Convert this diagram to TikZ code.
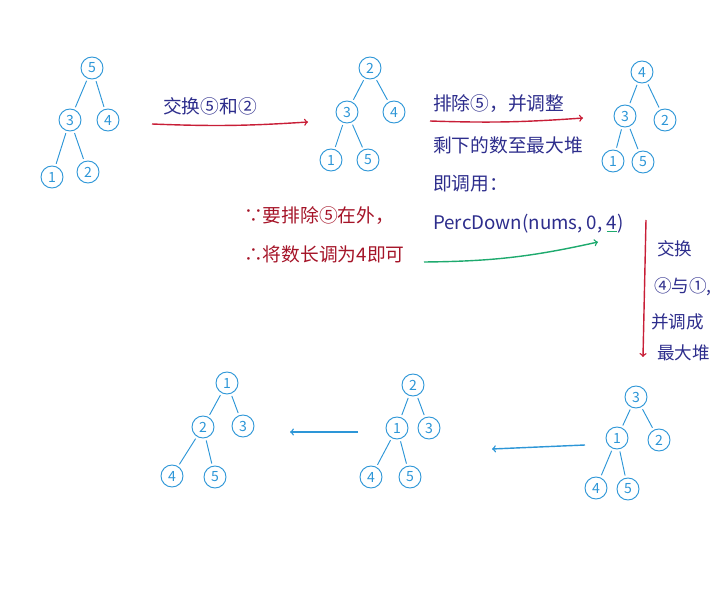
\documentclass[tikz,border=0pt]{standalone}
\usepackage{fontspec}
\setmainfont{Noto Sans CJK SC}
\usepackage{tikz}

\definecolor{treeblue}{RGB}{45,150,215}
\definecolor{txtblue}{RGB}{45,45,140}
\definecolor{txtred}{RGB}{165,20,40}
\definecolor{arrred}{RGB}{200,30,55}
\definecolor{arrgreen}{RGB}{30,170,110}

\begin{document}
\begin{tikzpicture}[x=0.03cm, y=-0.03cm,
		key/.style={circle, draw=treeblue, thick, text=treeblue, inner sep=0pt, minimum size=0.66cm, font=\fontsize{12}{12}\selectfont},
		branch/.style={treeblue, thick, shorten <=2pt, shorten >=2pt},
		note/.style={anchor=west, inner sep=0pt, font=\fontsize{16}{16}\selectfont},
		sidenote/.style={note, font=\fontsize{15}{15}\selectfont},
		step arrow/.style={very thick, ->}]
			\useasboundingbox (0,0) rectangle (715,596);
			% first heap
			\node[key] (a1) at (92,68) {5};
			\node[key] (a2) at (70,120) {3};
			\node[key] (a3) at (108,120) {4};
			\node[key] (a4) at (52,177) {1};
			\node[key] (a5) at (88,172) {2};
			\draw[branch] (a1)--(a2);
			\draw[branch] (a1)--(a3);
			\draw[branch] (a2)--(a4);
			\draw[branch] (a2)--(a5);
			% 5 and 2 swapped
			\node[key] (b1) at (370,68) {2};
			\node[key] (b2) at (347,112) {3};
			\node[key] (b3) at (394,112) {4};
			\node[key] (b4) at (331,160) {1};
			\node[key] (b5) at (368,160) {5};
			\draw[branch] (b1)--(b2);
			\draw[branch] (b1)--(b3);
			\draw[branch] (b2)--(b4);
			\draw[branch] (b2)--(b5);
			% max heap of the first four
			\node[key] (c1) at (642,72) {4};
			\node[key] (c2) at (625,116) {3};
			\node[key] (c3) at (665,120) {2};
			\node[key] (c4) at (613,161) {1};
			\node[key] (c5) at (643,162) {5};
			\draw[branch] (c1)--(c2);
			\draw[branch] (c1)--(c3);
			\draw[branch] (c2)--(c4);
			\draw[branch] (c2)--(c5);
			% 4 and 1 swapped
			\node[key] (d1) at (636,397) {3};
			\node[key] (d2) at (617,438) {1};
			\node[key] (d3) at (659,440) {2};
			\node[key] (d4) at (596,488) {4};
			\node[key] (d5) at (628,489) {5};
			\draw[branch] (d1)--(d2);
			\draw[branch] (d1)--(d3);
			\draw[branch] (d2)--(d4);
			\draw[branch] (d2)--(d5);
			\node[key] (e1) at (413,385) {2};
			\node[key] (e2) at (397,428) {1};
			\node[key] (e3) at (429,428) {3};
			\node[key] (e4) at (371,477) {4};
			\node[key] (e5) at (410,477) {5};
			\draw[branch] (e1)--(e2);
			\draw[branch] (e1)--(e3);
			\draw[branch] (e2)--(e4);
			\draw[branch] (e2)--(e5);
			\node[key] (f1) at (227,383) {1};
			\node[key] (f2) at (203,427) {2};
			\node[key] (f3) at (243,426) {3};
			\node[key] (f4) at (172,476) {4};
			\node[key] (f5) at (215,477) {5};
			\draw[branch] (f1)--(f2);
			\draw[branch] (f1)--(f3);
			\draw[branch] (f2)--(f4);
			\draw[branch] (f2)--(f5);
			% notes
			\node[note, txtblue] (swapone) at (163,106) {交换⑤和②};
			\node[note, txtblue] (dropfive) at (433,104) {排除⑤，并调整};
			\node[note, txtblue] (rest) at (433,145) {剩下的数至最大堆};
			\node[note, txtblue] (call) at (433,184) {即调用：};
			\node[note, txtblue] (perc) at (433,224) {PercDown(nums, 0, {\color{arrgreen}\underline{{\color{txtblue}4}}})};
			\node[note, txtred] (because) at (244,216) {∵要排除⑤在外，};
			\node[note, txtred] (hence) at (244,254) {∴将数长调为4即可};
			\node[sidenote, txtblue] (swaptwo) at (657,249) {交换};
			\node[sidenote, txtblue] (swaptwob) at (654,287) {④与①,};
			\node[sidenote, txtblue] (swaptwoc) at (651,322) {并调成};
			\node[sidenote, txtblue] (swaptwod) at (657,353) {最大堆};
			% arrows
			\coordinate (p1) at (152,124);
			\coordinate (p2) at (308,122);
			\coordinate (q1) at (430,121);
			\coordinate (q2) at (583,118);
			\coordinate (g1) at (424,262);
			\coordinate (g2) at (598,242);
			\coordinate (v1) at (646,220);
			\coordinate (v2) at (643,357);
			\coordinate (h1) at (585,445);
			\coordinate (h2) at (492,449);
			\coordinate (k1) at (358,432);
			\coordinate (k2) at (290,432);
			\draw[step arrow, arrred] (p1) to[bend right=3] (p2);
			\draw[step arrow, arrred] (q1) to[bend right=3] (q2);
			\draw[step arrow, arrgreen] (g1) to[bend right=6] (g2);
			\draw[step arrow, arrred] (v1)--(v2);
			\draw[step arrow, treeblue] (h1)--(h2);
			\draw[step arrow, treeblue] (k1)--(k2);
		\end{tikzpicture}
\end{document}
